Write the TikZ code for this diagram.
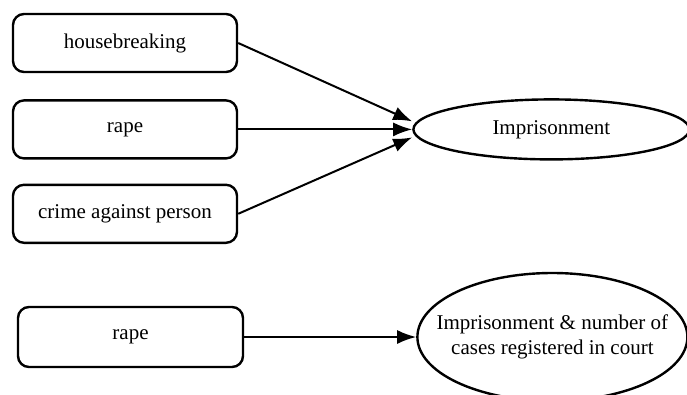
\documentclass[tikz,border=0pt]{standalone}
\usepackage{fontspec}
\setmainfont{Liberation Serif}
\usetikzlibrary{shapes,arrows,arrows.meta,positioning}
\tikzset{crime node/.style={rectangle,rounded corners=11pt,draw,line width=2.4pt,minimum width=224pt,minimum height=58pt,inner sep=0pt,font=\fontsize{21}{25}\selectfont},
}
\tikzstyle{outcomenode}=[ellipse,draw,line width=2.4pt,inner sep=0pt,align=center,font=\fontsize{21}{25}\selectfont]

\begin{document}
\begin{tikzpicture}[x=1pt,y=1pt,>={Latex[length=19pt,width=14pt]}]
		\useasboundingbox (0,0) rectangle (687,-394);
		\node[crime node] (hb) at (125,-43) {housebreaking};
		\node[crime node] (rape) [below = 26pt of hb] {rape};
		\node[crime node] (cap) [below = 24pt of rape] {crime against person};
		\node[outcomenode,minimum width=276pt,minimum height=60pt] (imp) [right = 174pt of rape] {Imprisonment};
		
		\node[crime node,minimum width=225pt,minimum height=60pt] (rape2) at (130.5,-337) {rape};
		\node[outcomenode,inner xsep=-22pt,minimum width=270pt,minimum height=128pt] (court) [right = 172pt of rape2] {Imprisonment \& number of\\cases registered in court};
		
		\path[line width=2pt]
		(hb.east) edge[->] node {} ([yshift=8pt]imp.west)
		(rape) edge[->] node {} (imp)
		(cap.east) edge[->] node {} ([yshift=-8pt]imp.west)
		(rape2) edge[->] node {} (court)
		;
		\end{tikzpicture}
\end{document}
